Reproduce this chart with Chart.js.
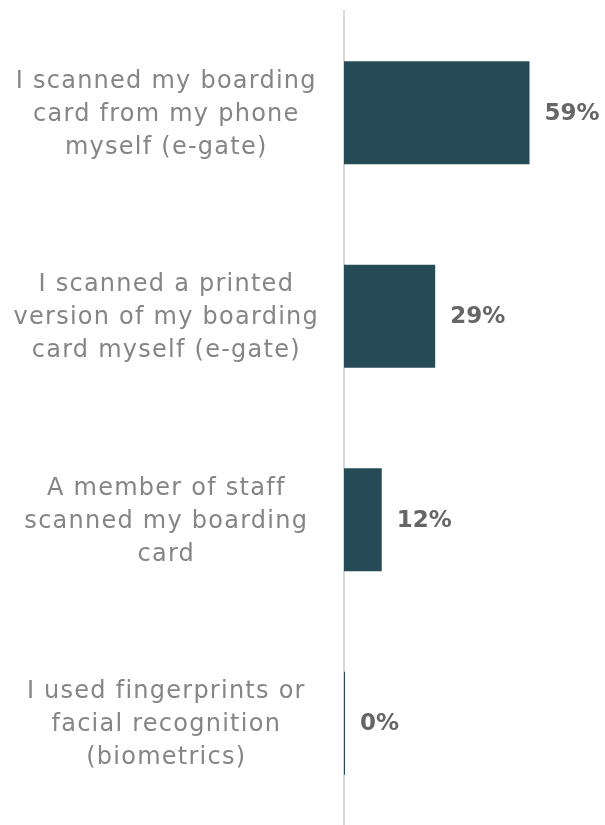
<!DOCTYPE html>
<html>
<head>
<meta charset="utf-8">
<script src="https://cdn.jsdelivr.net/npm/chart.js@4"></script>
<style>
  html, body { margin: 0; padding: 0; background: #fff; }
  #wrap { width: 605px; height: 825px; }
</style>
</head>
<body>
<div id="wrap"><canvas id="grafico"></canvas></div>
<script>
const categorias = [
    ["I scanned my boarding", "card from my phone", "myself (e-gate)"],
    ["I scanned a printed", "version of my boarding", "card myself (e-gate)"],
    ["A member of staff", "scanned my boarding", "card"],
    ["I used fingerprints or", "facial recognition", "(biometrics)"]
];
const porcentajes = [59, 29, 12, 0];
const etiquetasValor = ["59%", "29%", "12%", "0%"];

const fuente = "'DejaVu Sans', sans-serif";

// la fuente de las categorías es más ancha, se abre un poco el espaciado
const espaciado = {
    id: "espaciado",
    beforeLayout(chart) { chart.ctx.letterSpacing = "1.25px"; },
    beforeDraw(chart) { chart.ctx.letterSpacing = "1.25px"; }
};

// etiqueta de porcentaje a la derecha de cada barra
const etiquetas = {
    id: "etiquetas",
    afterDatasetsDraw(chart) {
        const ctx = chart.ctx;
        const meta = chart.getDatasetMeta(0);
        ctx.save();
        ctx.letterSpacing = "0px";
        ctx.font = "bold 23px " + fuente;
        ctx.fillStyle = "#666666";
        ctx.textAlign = "left";
        ctx.textBaseline = "middle";
        meta.data.forEach((barra, i) => {
            ctx.fillText(etiquetasValor[i], barra.x + 15, barra.y + 1);
        });
        ctx.restore();
    }
};

const ctx = document.getElementById("grafico").getContext("2d");

new Chart(ctx, {
    type: "bar",
    data: {
        labels: categorias,
        datasets: [{
            data: porcentajes,
            backgroundColor: "#264b56",
            barPercentage: 0.505,
            categoryPercentage: 1,
            minBarLength: 1
        }]
    },
    options: {
        indexAxis: "y",
        responsive: true,
        maintainAspectRatio: false,
        animation: false,
        layout: { padding: { top: 11, bottom: -4, left: 0, right: 0 } },
        plugins: {
            legend: { display: false },
            tooltip: { enabled: false }
        },
        scales: {
            x: {
                display: false,
                min: 0,
                max: 83
            },
            y: {
                grid: { display: false, drawTicks: false },
                border: { display: true, color: "#d9d9d9", width: 2 },
                ticks: {
                    crossAlign: "center",
                    padding: 25,
                    labelOffset: 2,
                    color: "#858585",
                    font: { family: fuente, size: 24, weight: "normal", lineHeight: 1.375 }
                },
                afterFit(scale) {
                    scale.width = 344;
                    scale.paddingTop = 0;
                    scale.paddingBottom = 0;
                }
            }
        }
    },
    plugins: [espaciado, etiquetas]
});
</script>
</body>
</html>
